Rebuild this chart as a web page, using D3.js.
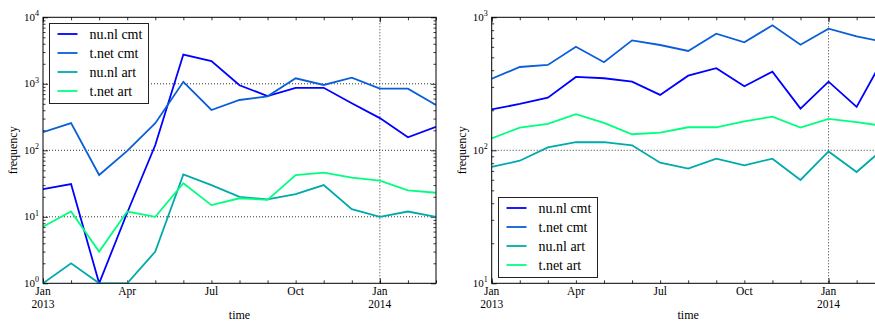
<!DOCTYPE html>
<html>
<head>
<meta charset="utf-8">
<script src="https://cdn.jsdelivr.net/npm/d3@7"></script>
<style>
  html, body { margin: 0; padding: 0; background: #fff; }
  svg { display: block; }
</style>
</head>
<body>
<svg id="chart" width="875" height="322" font-family="'Liberation Serif', 'Times New Roman', 'DejaVu Serif', serif"></svg>
<script>
// ---- data ----
const months = ["2013-01","2013-02","2013-03","2013-04","2013-05","2013-06","2013-07",
                "2013-08","2013-09","2013-10","2013-11","2013-12","2014-01","2014-02","2014-03"];
const seriesNames = ["nu.nl cmt", "t.net cmt", "nu.nl art", "t.net art"];
const seriesColors = ["#0000ff", "#0a5fd8", "#00aaaa", "#00ff80"];

// left panel
const leftNuCmt   = [26, 31, 1, 11.5, 120, 2750, 2200, 950, 655, 870, 870, 510, 305, 157, 226];
const leftTnetCmt = [187, 257, 42.5, 98, 255, 1070, 404, 571, 649, 1210, 960, 1236, 844, 844, 480];
const leftNuArt   = [1, 2, 1, 1, 3, 43.5, 30, 20, 18.3, 22, 30, 13, 10, 12, 10];
const leftTnetArt = [7.1, 12, 3, 12, 10, 32, 15, 19, 18, 42.5, 46, 38.7, 35, 25, 23];

// right panel
const rightNuCmt   = [203, 223, 249, 356, 348, 328, 261, 364, 414, 303, 390, 206, 328, 212, 510];
const rightTnetCmt = [345, 423, 438, 601, 459, 671, 619, 558, 753, 649, 871, 622, 821, 719, 650];
const rightNuArt   = [75, 83.5, 105, 115, 115, 109, 80.7, 72.8, 86.5, 77, 86.5, 59.8, 98, 68.7, 105];
const rightTnetArt = [123, 148, 158, 187, 161, 132, 136, 149, 149, 165, 179, 148, 172, 163, 152];

const xTickIdx = [0, 3, 6, 9, 12];
const xTickLabels = [["Jan", "2013"], ["Apr"], ["Jul"], ["Oct"], ["Jan", "2014"]];
const leftDecades = [0, 1, 2, 3, 4];
const rightDecades = [1, 2, 3];

const svg = d3.select("#chart");

function panel(opts) {
  const { x0, x1, y0, y1, domain, decades, data, legendPos, id } = opts;
  const x = d3.scaleLinear().domain([0, months.length - 1]).range([x0, x1]);
  const y = d3.scaleLog().domain(domain).range([y1, y0]);
  const g = svg.append("g");

  g.append("clipPath").attr("id", id).append("rect")
    .attr("x", x0).attr("y", y0).attr("width", x1 - x0).attr("height", y1 - y0);

  // grid
  const gridG = g.append("g").attr("stroke", "#000").attr("stroke-width", 0.8)
    .attr("stroke-dasharray", "1,2");
  decades.forEach(d => {
    const v = Math.pow(10, d);
    if (v > domain[0] && v < domain[1]) {
      gridG.append("line").attr("x1", x0).attr("x2", x1)
        .attr("y1", y(v)).attr("y2", y(v));
    }
  });
  gridG.append("line").attr("x1", x(12)).attr("x2", x(12)).attr("y1", y0).attr("y2", y1);

  // minor y ticks
  const minors = [];
  for (let d = decades[0]; d < decades[decades.length - 1]; d++) {
    for (let k = 2; k <= 9; k++) minors.push(k * Math.pow(10, d));
  }
  const majors = decades.map(d => Math.pow(10, d));

  const axisStyle = sel => {
    sel.select(".domain").remove();
    sel.selectAll(".tick line").attr("stroke", "#000").attr("stroke-width", 0.8);
    sel.selectAll(".tick text").remove();
  };
  g.append("g").attr("transform", `translate(${x0},0)`)
    .call(d3.axisLeft(y).tickValues(minors).tickSize(-2.5).tickFormat("")).call(axisStyle);
  g.append("g").attr("transform", `translate(${x0},0)`)
    .call(d3.axisLeft(y).tickValues(majors).tickSize(-5).tickFormat("")).call(axisStyle);
  g.append("g").attr("transform", `translate(${x1},0)`)
    .call(d3.axisRight(y).tickValues(minors).tickSize(-2.5).tickFormat("")).call(axisStyle);
  g.append("g").attr("transform", `translate(${x1},0)`)
    .call(d3.axisRight(y).tickValues(majors).tickSize(-5).tickFormat("")).call(axisStyle);

  const monthIdx = d3.range(months.length);
  g.append("g").attr("transform", `translate(0,${y1})`)
    .call(d3.axisBottom(x).tickValues(monthIdx).tickSize(-3).tickFormat("")).call(axisStyle);
  g.append("g").attr("transform", `translate(0,${y1})`)
    .call(d3.axisBottom(x).tickValues([0, 12]).tickSize(-5).tickFormat("")).call(axisStyle);
  g.append("g").attr("transform", `translate(0,${y0})`)
    .call(d3.axisTop(x).tickValues(monthIdx).tickSize(-3).tickFormat("")).call(axisStyle);
  g.append("g").attr("transform", `translate(0,${y0})`)
    .call(d3.axisTop(x).tickValues([0, 12]).tickSize(-5).tickFormat("")).call(axisStyle);

  // y tick labels 10^n
  decades.forEach(d => {
    const t = g.append("text").attr("x", x0 - 4).attr("y", y(Math.pow(10, d)) + 3.5)
      .attr("text-anchor", "end").attr("font-size", 11);
    t.append("tspan").text("10");
    t.append("tspan").attr("font-size", 8).attr("dy", -4.5).text(String(d));
  });

  // x tick labels
  xTickIdx.forEach((idx, i) => {
    const t = g.append("text").attr("text-anchor", "middle").attr("font-size", 11.5);
    xTickLabels[i].forEach((s, j) => {
      t.append("tspan").attr("x", x(idx)).attr("y", y1 + 12 + j * 12.5).text(s);
    });
  });

  // axis labels
  g.append("text").attr("x", (x0 + x1) / 2).attr("y", 319)
    .attr("text-anchor", "middle").attr("font-size", 12).text("time");
  g.append("text")
    .attr("transform", `translate(${x0 - 26},${(y0 + y1) / 2}) rotate(-90)`)
    .attr("text-anchor", "middle").attr("font-size", 12).text("frequency");

  // lines
  const line = d3.line().x((d, i) => x(i)).y(d => y(d));
  const lg = g.append("g").attr("clip-path", `url(#${id})`);
  data.forEach((s, i) => {
    lg.append("path").datum(s).attr("d", line).attr("fill", "none")
      .attr("stroke", seriesColors[i]).attr("stroke-width", 1.8)
      .attr("stroke-linejoin", "miter");
  });

  // frame
  g.append("rect").attr("x", x0).attr("y", y0).attr("width", x1 - x0).attr("height", y1 - y0)
    .attr("fill", "none").attr("stroke", "#000").attr("stroke-width", 1);

  // legend
  const L = legendPos;
  g.append("rect").attr("x", L.x).attr("y", L.y).attr("width", 99).attr("height", 80)
    .attr("fill", "#fff").attr("stroke", "#222").attr("stroke-width", 1);
  seriesNames.forEach((n, i) => {
    const cy = L.y + 10.5 + i * 19;
    g.append("line").attr("x1", L.x + 8).attr("x2", L.x + 28).attr("y1", cy).attr("y2", cy)
      .attr("stroke", seriesColors[i]).attr("stroke-width", 1.8);
    g.append("text").attr("x", L.x + 40).attr("y", cy + 4.5).attr("font-size", 14).text(n);
  });
}

panel({ id: "clipL", x0: 43, x1: 436, y0: 17.3, y1: 283.3, domain: [1, 1e4], decades: leftDecades,
  data: [leftNuCmt, leftTnetCmt, leftNuArt, leftTnetArt], legendPos: { x: 49.5, y: 23.5 } });
panel({ id: "clipR", x0: 491.7, x1: 884.7, y0: 17.3, y1: 283.3, domain: [10, 1000], decades: rightDecades,
  data: [rightNuCmt, rightTnetCmt, rightNuArt, rightTnetArt], legendPos: { x: 498.5, y: 197.5 } });
</script>
</body>
</html>
